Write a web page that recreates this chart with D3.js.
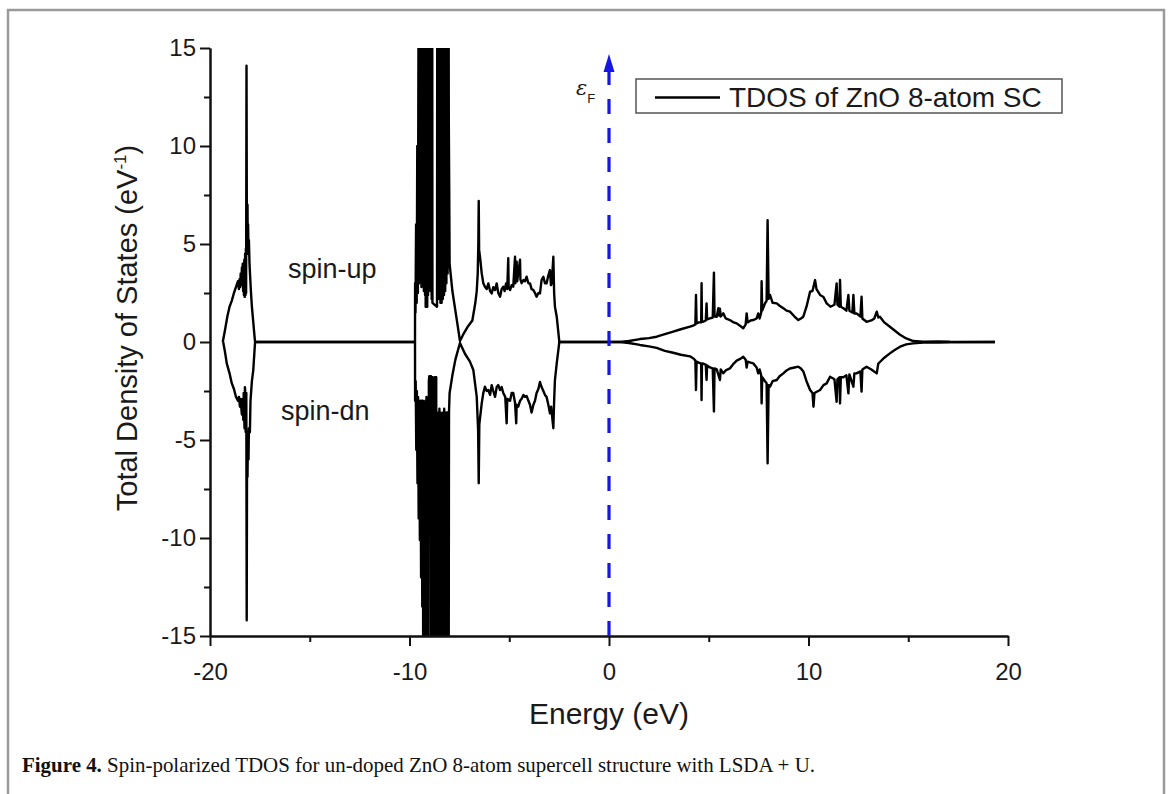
<!DOCTYPE html>
<html>
<head>
<meta charset="utf-8">
<script src="https://cdn.jsdelivr.net/npm/d3@7"></script>
<style>
  body { margin: 0; background: #fff; }
  text { font-family: "Liberation Sans", Arial, sans-serif; fill: #1a1a1a; }
  .axis path, .axis line { stroke: #111; stroke-width: 2; }
  .axis text { font-size: 24px; }
  .caption { font-family: "Liberation Serif", "Times New Roman", serif; fill: #111; }
</style>
</head>
<body>
<div id="graph"></div>
<script>
// Spin-polarized TDOS, ZnO 8-atom supercell

let xTicks = [-20, -10, 0, 10, 20];
let xMinor = [-15, -5, 5, 15];
let yTicks = [-15, -10, -5, 0, 5, 10, 15];
let yMinor = [-12.5, -7.5, -2.5, 2.5, 7.5, 12.5];

// [energy (eV), DOS]; spin-dn stored as magnitude
let spinUp = [
  [-19.36, 0], [-19.25, 0.6], [-19.13, 1.3], [-19.02, 1.8], [-18.91, 2.1], [-18.8, 2.5], [-18.7, 2.8],
  [-18.6, 3.1], [-18.55, 2.7], [-18.52, 3.2], [-18.49, 2.8], [-18.46, 3.5], [-18.43, 2.9], [-18.4, 3.8],
  [-18.38, 3.0], [-18.36, 4.0], [-18.34, 2.6], [-18.32, 3.9], [-18.3, 2.4], [-18.28, 4.2], [-18.26, 2.3],
  [-18.24, 4.5], [-18.22, 2.4], [-18.2, 4.8], [-18.19, 2.5], [-18.17, 14.1], [-18.15, 4.5], [-18.14, 6.5],
  [-18.13, 4.6], [-18.12, 7.0], [-18.11, 5.0], [-18.09, 6.0], [-18.07, 4.5], [-18.05, 5.2], [-18.02, 4.0],
  [-18.0, 3.6], [-17.95, 2.6], [-17.9, 1.8], [-17.83, 1.0], [-17.76, 0.2], [-17.74, 0],
  [-9.724, 0], [-9.72, 3.0], [-9.7, 1.5], [-9.67, 6], [-9.64, 2], [-9.61, 10], [-9.58, 2.5], [-9.55, 15.5],
  [-9.52, 3], [-9.49, 30], [-9.46, 3.2], [-9.43, 30], [-9.4, 2.8], [-9.37, 30], [-9.34, 3.0], [-9.31, 30],
  [-9.28, 2.6], [-9.25, 30], [-9.22, 2.4], [-9.2, 30], [-9.19, 1.8], [-9.11, 1.8], [-9.1, 30], [-9.07, 2.4],
  [-9.04, 30], [-9.01, 2.8], [-8.98, 30], [-8.95, 2.6], [-8.92, 30], [-8.89, 2.2], [-8.87, 30], [-8.85, 2.0],
  [-8.62, 1.8], [-8.6, 30], [-8.57, 2.5], [-8.54, 30], [-8.51, 2.2], [-8.48, 30], [-8.45, 2.0], [-8.42, 30],
  [-8.39, 2.0], [-8.36, 30], [-8.33, 2.2], [-8.3, 30], [-8.27, 2.4], [-8.24, 30], [-8.21, 2.6], [-8.18, 30],
  [-8.15, 3.0], [-8.12, 30], [-8.09, 3.5], [-8.06, 30], [-8.03, 11.2], [-8.01, 8], [-7.99, 4.0],
  [-7.85, 2.6], [-7.7, 1.6], [-7.58, 0.8], [-7.47, 0.05], [-7.3, 0.4], [-7.1, 0.75], [-6.85, 1.1],
  [-6.7, 2.0], [-6.63, 2.6], [-6.58, 3.5], [-6.55, 5.0], [-6.53, 7.2],
  [-6.51, 4.7], [-6.45, 4.2], [-6.38, 3.5], [-6.3, 3.0], [-6.22, 2.82], [-6.13, 2.7], [-6.05, 2.99], [-5.96, 2.6],
  [-5.88, 2.48], [-5.8, 2.8], [-5.71, 2.65], [-5.63, 2.99], [-5.55, 2.5], [-5.46, 2.31], [-5.38, 2.7],
  [-5.3, 2.82], [-5.23, 2.6], [-5.16, 2.99], [-5.1, 2.7], [-5.05, 4.27], [-5.03, 2.8], [-4.96, 2.65],
  [-4.88, 2.9], [-4.8, 2.82], [-4.71, 4.35], [-4.69, 3.0], [-4.63, 4.1], [-4.6, 3.1], [-4.55, 3.5],
  [-4.46, 4.2], [-4.44, 3.2], [-4.38, 3.0], [-4.29, 3.16], [-4.21, 3.1], [-4.13, 3.33], [-4.04, 3.0],
  [-3.96, 2.99], [-3.88, 2.7], [-3.79, 2.65], [-3.71, 2.5], [-3.63, 2.31], [-3.54, 2.5], [-3.46, 2.48],
  [-3.38, 3.16], [-3.29, 3.33], [-3.21, 3.0], [-3.13, 2.99], [-3.04, 3.4], [-2.96, 3.67], [-2.91, 2.9],
  [-2.87, 2.99], [-2.81, 4.0], [-2.79, 4.35], [-2.75, 2.5], [-2.71, 1.8], [-2.62, 1.29], [-2.55, 0.6], [-2.49, 0],
  [0.55, 0], [1.0, 0.05], [1.55, 0.15], [2.0, 0.2], [2.39, 0.27], [2.8, 0.4], [3.22, 0.53], [3.6, 0.65],
  [4.06, 0.78], [4.25, 0.85], [4.33, 0.9], [4.36, 2.4], [4.39, 0.95], [4.5, 1.0], [4.62, 1.0], [4.64, 3.0],
  [4.66, 1.05], [4.72, 1.03], [4.85, 1.1], [4.89, 1.97], [4.92, 1.15], [5.06, 1.2], [5.2, 1.25], [5.26, 3.54],
  [5.29, 1.3], [5.4, 1.29], [5.48, 1.72], [5.52, 1.35], [5.56, 1.7], [5.6, 1.3], [5.73, 1.46], [5.85, 1.2],
  [6.06, 1.12], [6.25, 1.0], [6.4, 0.95], [6.6, 0.8], [6.73, 0.7], [6.85, 0.9], [6.9, 1.46], [6.95, 1.0],
  [7.1, 1.1], [7.23, 1.12], [7.4, 1.2], [7.48, 1.46], [7.55, 1.2], [7.63, 1.5], [7.65, 3.1], [7.68, 1.6],
  [7.82, 1.97], [7.9, 2.1], [7.95, 6.22], [8.0, 2.2], [8.07, 2.4], [8.2, 2.0], [8.41, 1.97], [8.55, 1.85],
  [8.74, 1.72], [8.9, 1.6], [9.07, 1.55], [9.3, 1.3], [9.49, 1.12], [9.62, 1.2], [9.74, 1.29], [9.9, 1.8],
  [10.08, 2.57], [10.2, 2.6], [10.33, 3.16], [10.4, 2.7], [10.58, 2.4], [10.75, 2.3], [10.91, 1.97],
  [11.1, 1.8], [11.3, 1.9], [11.41, 2.99], [11.45, 1.9], [11.55, 1.8], [11.58, 3.16], [11.62, 1.8],
  [11.75, 1.72], [11.9, 1.6], [12.0, 2.4], [12.05, 1.6], [12.2, 1.5], [12.25, 2.4], [12.3, 1.45],
  [12.41, 1.46], [12.6, 1.3], [12.66, 2.31], [12.7, 1.2], [12.91, 1.03], [13.15, 1.1], [13.3, 1.2],
  [13.42, 1.55], [13.5, 1.25], [13.58, 1.29], [13.8, 1.0], [14.08, 0.78], [14.3, 0.6], [14.59, 0.37],
  [14.9, 0.18], [15.25, 0.05], [15.75, 0.02], [16.5, 0.03], [17.09, 0.01], [19.35, 0]
];

let spinDn = [
  [-19.34, 0], [-19.25, 0.5], [-19.16, 1.09], [-19.02, 1.6], [-18.91, 2.1], [-18.8, 2.4], [-18.7, 2.79],
  [-18.6, 3.0], [-18.55, 2.8], [-18.5, 3.3], [-18.47, 2.9], [-18.45, 3.0], [-18.42, 3.5], [-18.4, 3.7],
  [-18.37, 2.9], [-18.33, 3.98], [-18.31, 2.6], [-18.3, 3.2], [-18.27, 4.4], [-18.25, 2.3], [-18.24, 2.4],
  [-18.22, 4.3], [-18.21, 4.6], [-18.18, 2.6], [-18.16, 14.2], [-18.14, 4.6], [-18.13, 6.2], [-18.12, 6.87],
  [-18.1, 4.8], [-18.08, 5.8], [-18.07, 6.0], [-18.05, 4.4], [-18.04, 4.6], [-18.0, 4.6], [-17.97, 3.0],
  [-17.9, 2.0], [-17.83, 1.43], [-17.76, 0.3], [-17.74, 0],
  [-9.724, 0], [-9.72, 3.0], [-9.69, 2.0], [-9.66, 5.5], [-9.63, 2.5], [-9.6, 7.2], [-9.57, 2.8], [-9.54, 9],
  [-9.51, 3], [-9.48, 10.1], [-9.45, 3], [-9.42, 12], [-9.39, 3], [-9.36, 13.5], [-9.33, 3], [-9.3, 30],
  [-9.27, 3.2], [-9.24, 30], [-9.21, 3.0], [-9.18, 30], [-9.15, 2.8], [-9.12, 30], [-9.09, 3.0], [-9.06, 30],
  [-9.03, 2.0], [-9.01, 1.75], [-8.92, 1.75], [-8.91, 30], [-8.9, 1.8], [-8.84, 1.8], [-8.82, 30], [-8.79, 3],
  [-8.76, 30], [-8.73, 1.8], [-8.66, 1.8], [-8.65, 30], [-8.62, 3.6], [-8.59, 30], [-8.56, 3.6], [-8.53, 30],
  [-8.5, 3.4], [-8.47, 30], [-8.44, 3.6], [-8.41, 30], [-8.38, 3.8], [-8.35, 30], [-8.32, 3.6], [-8.29, 30],
  [-8.26, 3.4], [-8.23, 30], [-8.2, 3.6], [-8.17, 30], [-8.14, 3.6], [-8.11, 30], [-8.08, 3.6], [-8.05, 30],
  [-8.02, 3.6], [-7.99, 2.6], [-7.85, 1.7], [-7.7, 0.9], [-7.58, 0.45], [-7.47, 0.05],
  [-7.22, 0.6], [-6.97, 1.0], [-6.8, 1.43], [-6.63, 2.8], [-6.56, 4.5], [-6.53, 7.2], [-6.5, 4.2],
  [-6.38, 3.13], [-6.3, 2.6], [-6.22, 2.28], [-6.13, 2.5], [-6.05, 2.45], [-5.96, 2.7], [-5.88, 2.2],
  [-5.8, 2.5], [-5.71, 2.8], [-5.63, 2.3], [-5.55, 2.2], [-5.46, 2.45], [-5.38, 2.3], [-5.3, 2.6],
  [-5.2, 2.8], [-5.13, 4.15], [-5.1, 2.9], [-4.96, 3.0], [-4.88, 2.6], [-4.8, 2.6], [-4.71, 3.1],
  [-4.65, 4.15], [-4.63, 3.2], [-4.55, 3.3], [-4.46, 3.0], [-4.38, 2.9], [-4.29, 2.7], [-4.21, 2.8],
  [-4.13, 2.75], [-4.04, 3.0], [-3.96, 3.2], [-3.88, 3.6], [-3.79, 3.2], [-3.71, 3.0], [-3.63, 2.6],
  [-3.54, 2.4], [-3.46, 2.04], [-3.38, 2.3], [-3.29, 2.5], [-3.21, 2.7], [-3.13, 2.8], [-3.04, 3.2],
  [-2.96, 3.64], [-2.9, 3.3], [-2.83, 4.0], [-2.79, 4.4], [-2.75, 3.0], [-2.71, 1.94], [-2.62, 1.09],
  [-2.55, 0.5], [-2.49, 0],
  [0.55, 0], [1.0, 0.05], [1.55, 0.15], [2.0, 0.22], [2.39, 0.3], [2.8, 0.45], [3.22, 0.55], [3.6, 0.65],
  [4.06, 0.73], [4.25, 0.85], [4.33, 0.95], [4.36, 2.45], [4.39, 1.0], [4.5, 1.05], [4.62, 1.1], [4.64, 2.96],
  [4.66, 1.1], [4.72, 1.1], [4.85, 1.15], [4.89, 1.94], [4.92, 1.2], [5.06, 1.3], [5.2, 1.35], [5.26, 3.55],
  [5.29, 1.35], [5.4, 1.4], [5.56, 1.94], [5.6, 1.4], [5.73, 1.6], [5.85, 1.45], [6.06, 1.35], [6.25, 1.1],
  [6.4, 0.95], [6.6, 0.85], [6.73, 0.75], [6.85, 0.9], [6.9, 1.3], [6.95, 1.0], [7.1, 1.05], [7.23, 1.09],
  [7.4, 1.3], [7.48, 1.6], [7.55, 1.4], [7.63, 1.7], [7.65, 3.13], [7.68, 1.8], [7.82, 2.0], [7.9, 2.1],
  [7.95, 6.19], [8.0, 2.2], [8.07, 2.28], [8.2, 2.0], [8.41, 1.94], [8.55, 1.75], [8.74, 1.6], [8.9, 1.45],
  [9.07, 1.35], [9.3, 1.3], [9.49, 1.26], [9.62, 1.35], [9.74, 1.5], [9.9, 2.0], [10.08, 2.45], [10.2, 2.6],
  [10.25, 3.3], [10.3, 2.6], [10.58, 2.45], [10.75, 2.2], [10.91, 2.11], [11.08, 1.77], [11.3, 1.9],
  [11.41, 3.05], [11.45, 1.9], [11.55, 1.8], [11.58, 3.13], [11.62, 1.8], [11.75, 1.8], [11.9, 1.7],
  [12.0, 2.62], [12.05, 1.65], [12.25, 2.28], [12.3, 1.6], [12.41, 1.6], [12.6, 1.5], [12.66, 2.53],
  [12.7, 1.4], [12.91, 1.26], [13.15, 1.4], [13.42, 1.6], [13.5, 1.1], [13.58, 1.02], [13.8, 0.8],
  [14.08, 0.58], [14.3, 0.42], [14.59, 0.24], [14.9, 0.12], [15.25, 0.07], [15.75, 0.03], [16.5, 0.03],
  [17.09, 0.01], [19.35, 0]
];

let legendLabel = "TDOS of ZnO 8-atom SC";

let svgWidth = 1170;
let svgHeight = 794;

let svg = d3.select("#graph")
  .append("svg")
  .attr("width", svgWidth)
  .attr("height", svgHeight);

// figure frame (bottom edge runs off the page)
svg.append("rect")
  .attr("x", 8).attr("y", 10)
  .attr("width", 1156).attr("height", 820)
  .attr("fill", "none")
  .attr("stroke", "#9a9a9a")
  .attr("stroke-width", 2.5);

let xScale = d3.scaleLinear().domain([-20, 20]).range([210, 1008]);
let yScale = d3.scaleLinear().domain([-15, 15]).range([636, 48]);

svg.append("clipPath").attr("id", "plotClip")
  .append("rect")
  .attr("x", xScale(-20)).attr("y", yScale(15))
  .attr("width", xScale(20) - xScale(-20))
  .attr("height", yScale(-15) - yScale(15));

let plot = svg.append("g").attr("clip-path", "url(#plotClip)");

let upLine = d3.line().x(d => xScale(d[0])).y(d => yScale(d[1]));
let dnLine = d3.line().x(d => xScale(d[0])).y(d => yScale(-d[1]));

plot.append("path")
  .datum(spinUp)
  .attr("d", upLine)
  .attr("fill", "none")
  .attr("stroke", "#000")
  .attr("stroke-width", 2.4)
  .attr("stroke-linejoin", "round");

plot.append("path")
  .datum(spinDn)
  .attr("d", dnLine)
  .attr("fill", "none")
  .attr("stroke", "#000")
  .attr("stroke-width", 2.4)
  .attr("stroke-linejoin", "round");

// axes: major + minor ticks
let fmt = d => String(d);

svg.append("g").attr("class", "axis")
  .attr("transform", `translate(0, ${yScale(-15)})`)
  .call(d3.axisBottom(xScale).tickValues(xTicks).tickSize(10).tickSizeOuter(0).tickPadding(17).tickFormat(fmt));
svg.append("g").attr("class", "axis")
  .attr("transform", `translate(0, ${yScale(-15)})`)
  .call(d3.axisBottom(xScale).tickValues(xMinor).tickSize(6).tickSizeOuter(0).tickFormat(""));

svg.append("g").attr("class", "axis")
  .attr("transform", `translate(${xScale(-20)}, 0)`)
  .call(d3.axisLeft(yScale).tickValues(yTicks).tickSize(10).tickSizeOuter(0).tickPadding(4).tickFormat(fmt));
svg.append("g").attr("class", "axis")
  .attr("transform", `translate(${xScale(-20)}, 0)`)
  .call(d3.axisLeft(yScale).tickValues(yMinor).tickSize(6).tickSizeOuter(0).tickFormat(""));

// Fermi level arrow
let fermiX = xScale(0);
svg.append("line")
  .attr("x1", fermiX).attr("x2", fermiX)
  .attr("y1", yScale(-15)).attr("y2", 70)
  .attr("stroke", "#1515e6")
  .attr("stroke-width", 3.2)
  .attr("stroke-dasharray", "15,14");
svg.append("path")
  .attr("d", `M${fermiX},54 L${fermiX - 5.5},72 L${fermiX + 5.5},72 Z`)
  .attr("fill", "#1515e6");

let eF = svg.append("text")
  .attr("x", 576).attr("y", 95)
  .style("font-size", "24px");
eF.append("tspan").style("font-style", "italic").style("font-family", "DejaVu Serif").style("font-size", "21px").text("ε");
eF.append("tspan").attr("dy", 8).style("font-size", "13px").text("F");

// legend
svg.append("rect")
  .attr("x", 636).attr("y", 79)
  .attr("width", 426).attr("height", 34)
  .attr("fill", "#fff")
  .attr("stroke", "#555")
  .attr("stroke-width", 1.5);
svg.append("line")
  .attr("x1", 655).attr("x2", 720)
  .attr("y1", 97.5).attr("y2", 97.5)
  .attr("stroke", "#000").attr("stroke-width", 2.6);
svg.append("text")
  .attr("x", 729).attr("y", 107)
  .style("font-size", "28px")
  .text(legendLabel);

// spin labels
svg.append("text").attr("x", 288).attr("y", 278).style("font-size", "27px").text("spin-up");
svg.append("text").attr("x", 281).attr("y", 420).style("font-size", "27px").text("spin-dn");

// axis titles
svg.append("text")
  .attr("x", fermiX).attr("y", 724)
  .attr("text-anchor", "middle")
  .style("font-size", "30px")
  .text("Energy (eV)");

let yTitle = svg.append("text")
  .attr("transform", "translate(137, 328) rotate(-90)")
  .attr("text-anchor", "middle")
  .style("font-size", "29px");
yTitle.append("tspan").text("Total Density of States (eV");
yTitle.append("tspan").attr("dy", -11).style("font-size", "17px").text("-1");
yTitle.append("tspan").attr("dy", 11).text(")");

// caption
let cap = svg.append("text")
  .attr("class", "caption")
  .attr("x", 22).attr("y", 772)
  .attr("textLength", 793)
  .attr("lengthAdjust", "spacingAndGlyphs")
  .style("font-size", "21px");
cap.append("tspan").style("font-weight", "bold").text("Figure 4.");
cap.append("tspan").text(" Spin-polarized TDOS for un-doped ZnO 8-atom supercell structure with LSDA + U.");
</script>
</body>
</html>
